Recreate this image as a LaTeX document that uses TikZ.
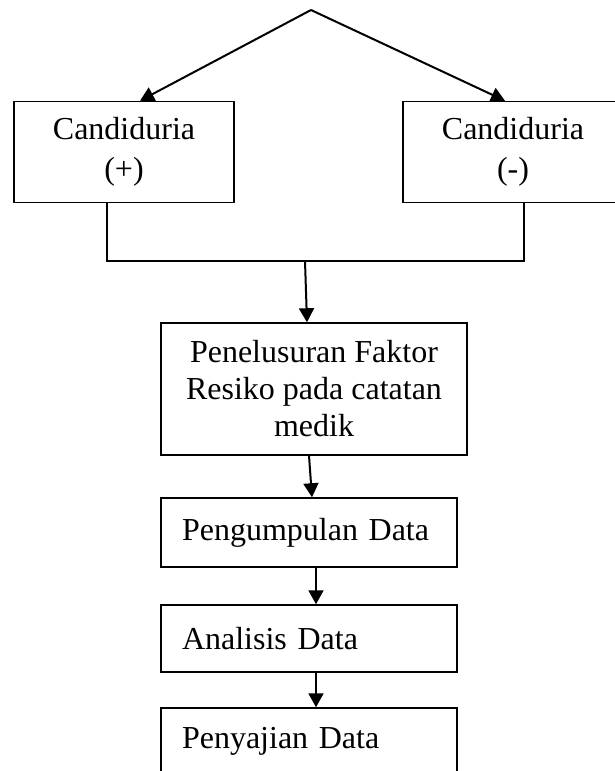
\documentclass[tikz,border=0pt]{standalone}
\usepackage{fontspec}
\setmainfont{Liberation Serif}
\usepackage{tikz}
\usetikzlibrary{
	arrows.meta,positioning
}
\begin{document}
\begin{tikzpicture}[x=0.5pt,y=-0.5pt,
		box/.style={draw,line width=0.75pt,align=center,font=\fontsize{16}{18.5}\selectfont},
		lbox/.style={box,align=left,text width=127pt,inner xsep=10.5pt,minimum height=33.5pt},
		>={Triangle[width=7.5pt,length=7pt]}]
		\useasboundingbox (0,0) rectangle (615,771);
		\coordinate (T) at (311,10);
		\coordinate (M) at (305,261);
		\node[box,minimum width=110pt,minimum height=50.5pt] (P) at (124,152) {Candiduria\\[1.5pt](+)};
		\node[box,minimum width=110pt,minimum height=50.5pt] (N) at (513,152) {Candiduria\\[1.5pt](-)};
		\node[box,minimum width=153pt,minimum height=66pt] (F) at (314,389) {Penelusuran Faktor\\Resiko pada catatan\\medik};
		\node[lbox,minimum height=34.5pt] (K) at (309,532.5) {Pengumpulan Data};
		\node[lbox] (A) at (309,638.5) {Analisis Data};
		\node[lbox] (S) at (309,741.5) {Penyajian Data};
				%
		\draw[line width=0.75pt] ([xshift=-8.5pt]P.south) |- (M) -| ([xshift=5.5pt]N.south);
		\path[->,line width=1pt]
		(T) edge ([xshift=8pt]P.north)
		(T) edge ([xshift=-4pt]N.north)
		(M) edge ([xshift=-3.5pt]F.north)
		([xshift=-2.5pt]F.south) edge ([xshift=1.5pt]K.north)
		([xshift=3.5pt]K.south) edge ([xshift=3.5pt]A.north)
		([xshift=3.5pt]A.south) edge ([xshift=3.5pt]S.north);
	\end{tikzpicture}
\end{document}
